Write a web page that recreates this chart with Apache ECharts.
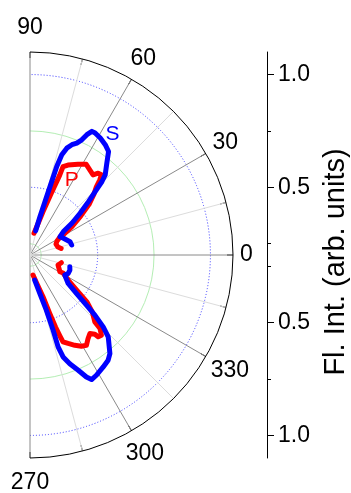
<!DOCTYPE html>
<html>
<head>
<meta charset="utf-8">
<script src="https://cdn.jsdelivr.net/npm/echarts@6/dist/echarts.min.js"></script>
<style>
  html, body { margin: 0; padding: 0; background: #ffffff; }
  #chart { width: 351px; height: 493px; }
</style>
</head>
<body>
<div id="chart"></div>
<script>
// Polarisation angles labelled on the half circle (degrees; 270..330 stored as -90..-30)
const angleTicks = [-90, -60, -30, 0, 30, 60, 90];
// Intensity ticks on the vertical scale
const intensityTicks = [0.5, 1.0];
const intensityMinorTicks = [0.25, 0.75];
// Intensity range shown along the radius (centre = 0.2)
const intensityMin = 0.2;
const intensityMax = 1.1;

// Fluorescence intensity, [angle in degrees, intensity]
const pLower = [
  [-81.5, 0.290], [-76.5, 0.330], [-72.7, 0.394], [-71.4, 0.471], [-70.5, 0.539],
  [-69.7, 0.583], [-69.2, 0.612], [-66.7, 0.627], [-63.6, 0.647], [-60.6, 0.664],
  [-58.0, 0.672], [-55.2, 0.651], [-52.7, 0.638], [-50.7, 0.654], [-50.2, 0.672],
  [-48.3, 0.676], [-46.4, 0.650], [-45.9, 0.613], [-42.5, 0.575], [-39.5, 0.528],
  [-37.1, 0.462], [-33.5, 0.405], [-28.6, 0.367], [-29.3, 0.352], [-19.6, 0.332],
  [-13.8, 0.343]
];
const pUpper = [
  [11.8, 0.341], [15.9, 0.329], [22.9, 0.325], [27.4, 0.335], [31.0, 0.356],
  [31.5, 0.375], [34.2, 0.426], [37.5, 0.483], [40.6, 0.545], [43.5, 0.590],
  [45.8, 0.622], [47.1, 0.654], [48.3, 0.676], [50.2, 0.672], [51.8, 0.652],
  [54.9, 0.661], [58.2, 0.673], [62.1, 0.655], [67.1, 0.633], [69.5, 0.618],
  [69.6, 0.578], [71.0, 0.490], [73.3, 0.400], [76.5, 0.330], [79.6, 0.298]
];
const sLower = [
  [-79.4, 0.313], [-75.5, 0.380], [-73.5, 0.455], [-72.9, 0.549], [-73.0, 0.626],
  [-72.0, 0.675], [-69.9, 0.713], [-67.3, 0.754], [-65.2, 0.796], [-63.7, 0.816],
  [-61.1, 0.809], [-56.8, 0.793], [-53.4, 0.781], [-51.0, 0.763], [-46.3, 0.702],
  [-44.5, 0.655], [-42.8, 0.592], [-41.6, 0.535], [-39.6, 0.467], [-36.7, 0.411],
  [-30.0, 0.378], [-25.7, 0.388], [-20.7, 0.389], [-16.4, 0.384]
];
const sUpper = [
  [13.5, 0.390], [18.4, 0.387], [26.6, 0.366], [31.4, 0.356], [35.0, 0.381],
  [37.2, 0.433], [39.8, 0.489], [42.4, 0.551], [44.2, 0.603], [45.6, 0.656],
  [46.8, 0.687], [50.1, 0.731], [52.8, 0.776], [55.7, 0.792], [59.0, 0.805],
  [61.9, 0.813], [63.4, 0.813], [64.7, 0.790], [65.8, 0.760], [67.3, 0.738],
  [69.2, 0.723], [71.0, 0.701], [72.4, 0.666], [73.2, 0.610], [73.7, 0.516],
  [74.3, 0.446], [75.4, 0.376], [76.8, 0.310]
];

const FONT = "'Liberation Sans', Arial, Helvetica, sans-serif";
const center = [30, 255];
const radius = 203;
const BLUE = '#0000ff';
const RED = '#ff0000';

const chart = echarts.init(document.getElementById('chart'), null, { renderer: 'canvas' });

function curve(name, pts, color) {
  return {
    name: name,
    type: 'line',
    coordinateSystem: 'polar',
    polarIndex: 0,
    data: pts.map(p => [p[1], p[0]]),
    symbol: 'none',
    smooth: false,
    silent: true,
    lineStyle: { color: color, width: 5, cap: 'round', join: 'round' }
  };
}

const angleAxisBase = {
  type: 'value',
  min: -90,
  max: 90,
  interval: 15,
  startAngle: -90,
  endAngle: 90,
  clockwise: false
};

function radiusAxis(index, ticks, lineStyle) {
  return {
    polarIndex: index,
    type: 'value',
    min: intensityMin,
    max: intensityMax,
    axisLine: { show: false },
    axisTick: { show: false, customValues: ticks },
    axisLabel: { show: false, customValues: ticks },
    splitLine: { show: true, lineStyle: lineStyle }
  };
}

function scaleAxis(gridIndex, ticks, tickLen, withLine, withLabels, inverse) {
  return {
    gridIndex: gridIndex,
    type: 'value',
    position: 'right',
    min: intensityMin,
    max: intensityMax,
    inverse: inverse,
    axisLine: { show: withLine, onZero: false, lineStyle: { color: '#000', width: 1 } },
    axisTick: { show: true, inside: false, length: tickLen, customValues: ticks,
                lineStyle: { color: '#000', width: 1 } },
    axisLabel: { show: withLabels, customValues: ticks, margin: 11,
                 formatter: v => Number(v).toFixed(1),
                 color: '#000', fontSize: 23, fontFamily: FONT },
    splitLine: { show: false }
  };
}

const grids = [];
const xAxes = [];
for (let i = 0; i < 4; i++) {
  grids.push({ left: 200, width: 67, top: i < 2 ? 52 : 255, height: 203 });
  xAxes.push({ gridIndex: i, type: 'value', show: false });
}

chart.setOption({
  animation: false,
  backgroundColor: '#ffffff',
  polar: [
    { center: center, radius: radius },
    { center: center, radius: radius }
  ],
  angleAxis: [
    Object.assign({}, angleAxisBase, {
      polarIndex: 0,
      axisLine: { show: true, lineStyle: { color: '#000', width: 1 } },
      axisTick: { show: true, inside: true, length: 6, lineStyle: { color: '#000', width: 1 } },
      axisLabel: { show: false },
      splitLine: { show: true, lineStyle: { color: ['#8a8a8a', '#dcdcdc'], width: 1 } }
    }),
    Object.assign({}, angleAxisBase, {
      polarIndex: 1,
      axisLine: { show: false },
      axisTick: { show: false },
      axisLabel: { show: false },
      splitLine: { show: false }
    })
  ],
  radiusAxis: [
    radiusAxis(0, intensityMinorTicks, { color: '#b4eeb4', width: 1 }),
    radiusAxis(1, intensityTicks, { color: '#3a3aff', width: 1, type: [1, 2] })
  ],
  grid: grids,
  xAxis: xAxes,
  yAxis: [
    scaleAxis(0, intensityTicks, 7, true, true, false),
    scaleAxis(1, intensityMinorTicks, 4, false, false, false),
    scaleAxis(2, intensityTicks, 7, true, true, true),
    scaleAxis(3, intensityMinorTicks, 4, false, false, true)
  ],
  series: [
    curve('P', pLower, RED),
    curve('P', pUpper, RED),
    curve('S', sLower, BLUE),
    curve('S', sUpper, BLUE)
  ]
});

// Angle labels sit just outside the arc, centred on their radial direction
const graphics = [];
const digitW = 12.8, digitH = 17, gap = 7;
angleTicks.forEach(a => {
  const text = String(a < 0 ? a + 360 : a);
  const t = a * Math.PI / 180;
  const halfExt = Math.abs(Math.cos(t)) * text.length * digitW / 2 + Math.abs(Math.sin(t)) * digitH / 2;
  const distPx = radius + gap + halfExt + 9 * Math.pow(Math.sin(t), 8);
  const value = intensityMin + distPx / radius * (intensityMax - intensityMin);
  const pt = chart.convertToPixel({ seriesIndex: 0 }, [value, a]);
  graphics.push({
    type: 'text', x: pt[0], y: pt[1], silent: true,
    style: { text: text, fill: '#000', font: '23px ' + FONT, align: 'center', verticalAlign: 'middle' }
  });
});

graphics.push({
  type: 'text', x: 336, y: 262, rotation: Math.PI / 2, silent: true,
  style: { text: 'Fl. Int. (arb. units)', fill: '#000', font: '29px ' + FONT,
           align: 'center', verticalAlign: 'middle' }
});
graphics.push({
  type: 'text', x: 112.5, y: 134.5, silent: true,
  style: { text: 'S', fill: BLUE, font: '21px ' + FONT, align: 'center', verticalAlign: 'middle' }
});
graphics.push({
  type: 'text', x: 71.7, y: 180.5, silent: true,
  style: { text: 'P', fill: RED, font: '21px ' + FONT, align: 'center', verticalAlign: 'middle' }
});

chart.setOption({ graphic: graphics });
</script>
</body>
</html>
